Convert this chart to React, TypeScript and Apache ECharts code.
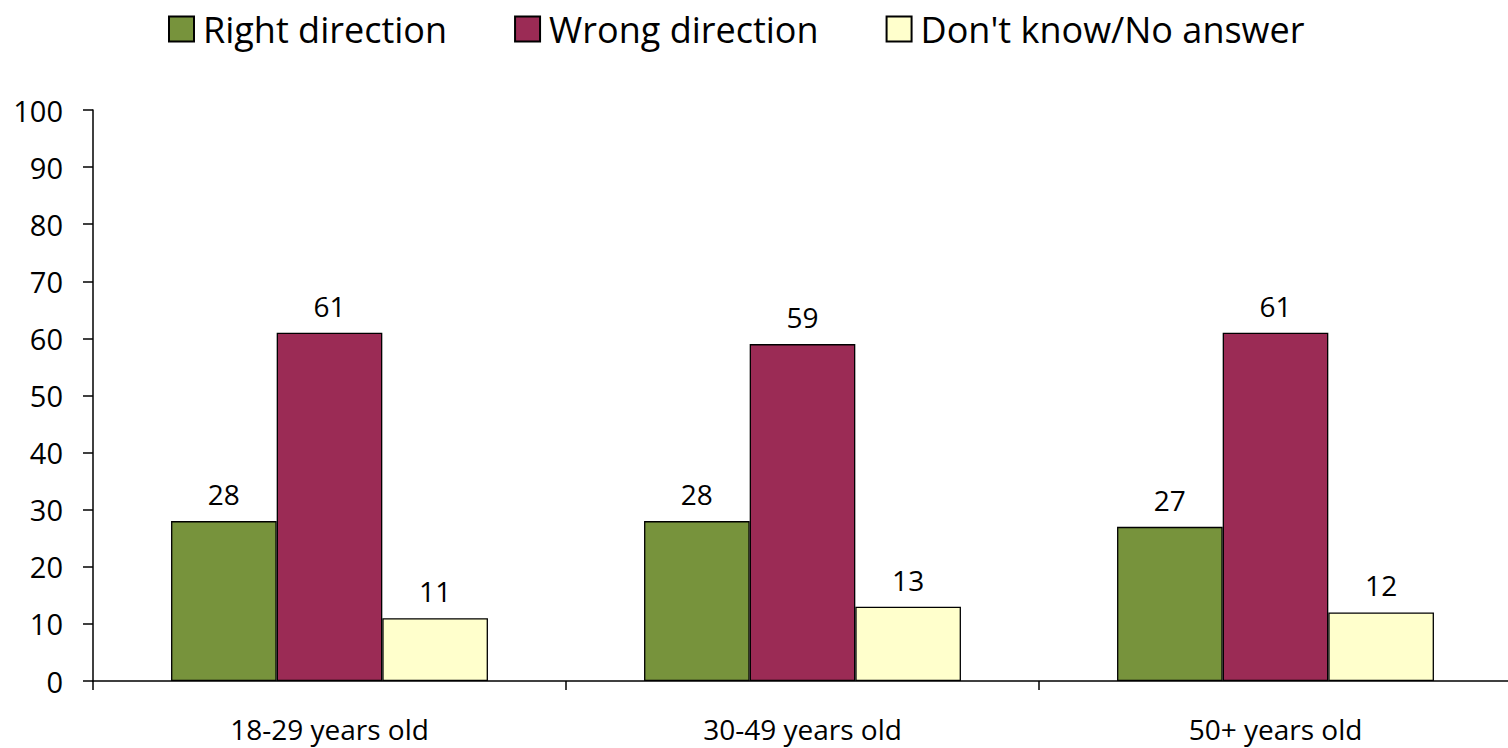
import React, { useEffect, useRef } from "react";
import * as echarts from "echarts";

const categories = ["18-29 years old", "30-49 years old", "50+ years old"];
const rightDirection = [28, 28, 27];
const wrongDirection = [61, 59, 61];
const dontKnow = [11, 13, 12];
const seriesNames = ["Right direction", "Wrong direction", "Don't know/No answer"];
const colors = ["#77933C", "#9B2B55", "#FFFFCC"];

const FONT = "'Open Sans', 'Liberation Sans', sans-serif";

export default function App() {
  const ref = useRef<HTMLDivElement>(null);
  useEffect(() => {
    document.body.style.margin = "0";
    document.body.style.overflow = "hidden";
    document.documentElement.style.overflow = "hidden";
    const chart = echarts.init(ref.current!, null, { renderer: "svg" });
    const values = [rightDirection, wrongDirection, dontKnow];
    chart.setOption({
      animation: false,
      textStyle: { fontFamily: FONT },
      legend: {
        top: 6,
        left: 163,
        itemWidth: 25,
        itemHeight: 25,
        itemGap: 67,
        icon: "rect",
        textStyle: {
          fontSize: 36,
          color: "#000",
          fontFamily: FONT,
          padding: [0, 0, 0, 4],
        },
        data: seriesNames,
      },
      grid: { left: 93, right: 0, top: 110, bottom: 67, containLabel: false },
      xAxis: {
        type: "category",
        data: categories,
        axisLine: { lineStyle: { color: "#000", width: 1.5 } },
        axisTick: { show: true, length: 9, lineStyle: { color: "#000", width: 1.5 } },
        axisLabel: { fontSize: 28, color: "#000", margin: 34, fontFamily: FONT },
      },
      yAxis: {
        type: "value",
        min: 0,
        max: 100,
        interval: 10,
        splitLine: { show: false },
        axisLine: { show: true, lineStyle: { color: "#000", width: 1.5 } },
        axisTick: { show: true, length: 10, lineStyle: { color: "#000", width: 1.5 } },
        axisLabel: { fontSize: 29, color: "#000", margin: 30, fontFamily: FONT },
      },
      series: seriesNames.map((name, i) => ({
        name,
        type: "bar",
        data: values[i],
        barGap: "0%",
        barCategoryGap: "33%",
        itemStyle: { color: colors[i], borderColor: "#000", borderWidth: 1.3 },
        label: {
          show: true,
          position: "top",
          distance: 13,
          fontSize: 28,
          color: "#000",
          fontFamily: FONT,
        },
      })),
    });
    return () => chart.dispose();
  }, []);
  return (
    <div
      ref={ref}
      style={{ position: "absolute", left: 0, top: 0, width: 1512, height: 748 }}
    />
  );
}
